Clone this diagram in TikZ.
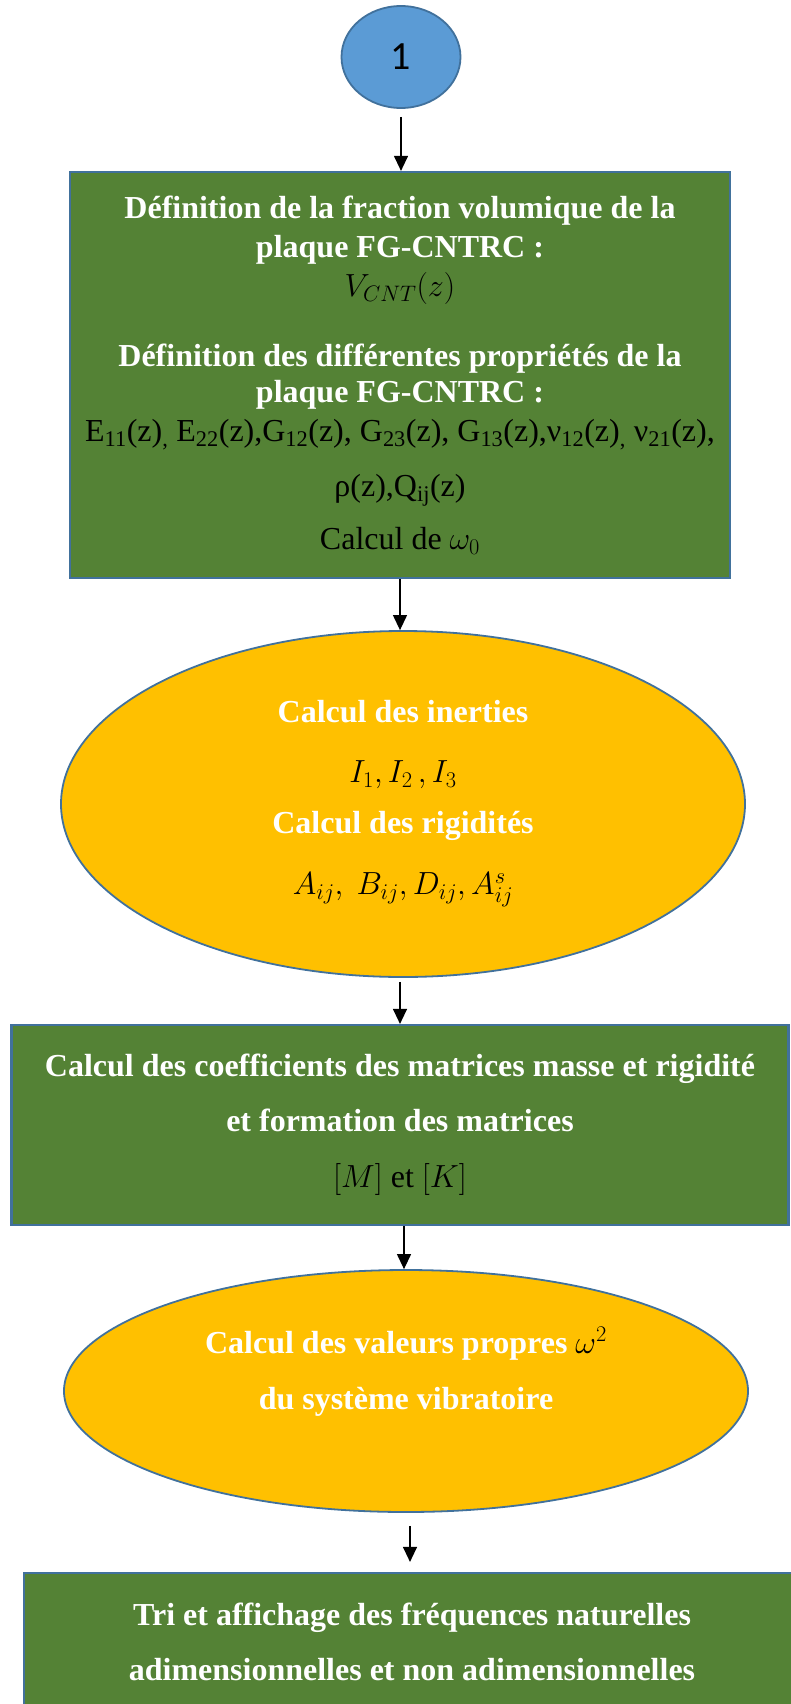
\RequirePackage{fix-cm}
\documentclass[tikz,border=0pt]{standalone}
\usepackage{fontspec}
\setmainfont{Liberation Serif}
\newfontfamily\calibri{Carlito}
\usetikzlibrary{
arrows.meta,
positioning,
shapes.geometric
}
\tikzset{>={Triangle[length=15pt,width=14pt]}}
\definecolor{boxgreen}{HTML}{548235}
\definecolor{boxedge}{HTML}{41719C}
\definecolor{ovalgold}{HTML}{FFC000}
\definecolor{startblue}{HTML}{5B9BD5}
\newcommand{\wb}[1]{\textcolor{white}{\textbf{#1}}}

\begin{document}
\begin{tikzpicture}[x=1pt, y=-1pt, font=\fontsize{32}{39}\selectfont,
	stepbox/.style={draw=boxedge, line width=2.2pt, fill=boxgreen, align=center, inner sep=0pt},
	oval/.style={ellipse, draw=boxedge, line width=1.8pt, fill=ovalgold, align=center, inner sep=0pt},
	flow/.style={->, line width=1.2pt}]
		\useasboundingbox (0,0) rectangle (791,1704);
		
		\node[ellipse, draw=boxedge, line width=1.8pt, fill=startblue, minimum width=119pt, minimum height=102pt, inner sep=0pt, font=\calibri\fontsize{40}{46}\selectfont] (start) at (401,57) {1};
		
		\node[stepbox, minimum width=660pt, minimum height=406pt] (fraction) at (400,375) {%
			\wb{Définition de la fraction volumique de la}\\
			\wb{plaque FG-CNTRC :}\\
			$V_{CNT}(z)$\\[31pt]
			\wb{Définition des différentes propriétés de la}\\[-3pt]
			\wb{plaque FG-CNTRC :}\\
			E\textsubscript{11}(z)\textsubscript{,} E\textsubscript{22}(z),G\textsubscript{12}(z), G\textsubscript{23}(z), G\textsubscript{13}(z),ν\textsubscript{12}(z)\textsubscript{,} ν\textsubscript{21}(z),\\[16pt]
			ρ(z),Q\textsubscript{ij}(z)\\[14pt]
			Calcul de $\omega_0$};
		
		\node[oval, minimum width=684pt, minimum height=346pt] (inerties) at (403,804) {%
			\wb{Calcul des inerties}\\[21pt]
			$I_1, I_2\,, I_3$\\[12pt]
			\wb{Calcul des rigidités}\\[22pt]
			$A_{ij},\ B_{ij}, D_{ij}, A^s_{ij}$};
		
		\node[stepbox, minimum width=777pt, minimum height=200pt] (matrices) at (400,1125) {%
			\wb{Calcul des coefficients des matrices masse et rigidité}\\[16pt]
			\wb{et formation des matrices}\\[17pt]
			$[M]$ et $[K]$};
		
		\node[oval, minimum width=684pt, minimum height=242pt] (valeurs) at (406,1391) {%
			\wb{Calcul des valeurs propres} $\omega^2$\\[17pt]
			\wb{du système vibratoire}\\[7pt]
			\mbox{}};
		
		\node[stepbox, minimum width=776pt, minimum height=138pt] (frequences) at (412,1642) {%
			\wb{Tri et affichage des fréquences naturelles}\\[16pt]
			\wb{adimensionnelles et non adimensionnelles}};
		
		\draw[flow, shorten <=8pt] (start.south) -- (start.south |- fraction.north);
		\draw[flow] (fraction.south) -- (fraction.south |- inerties.north);
		\draw[flow, shorten <=4pt] (inerties.south -| matrices.north) -- (matrices.north);
		\draw[flow] ([xshift=4pt]matrices.south) -- ([xshift=4pt]matrices.south |- valeurs.north);
		\draw[flow, shorten <=13pt, shorten >=10pt] ([xshift=4pt]valeurs.south) -- ([xshift=4pt]valeurs.south |- frequences.north);
	\end{tikzpicture}
\end{document}
